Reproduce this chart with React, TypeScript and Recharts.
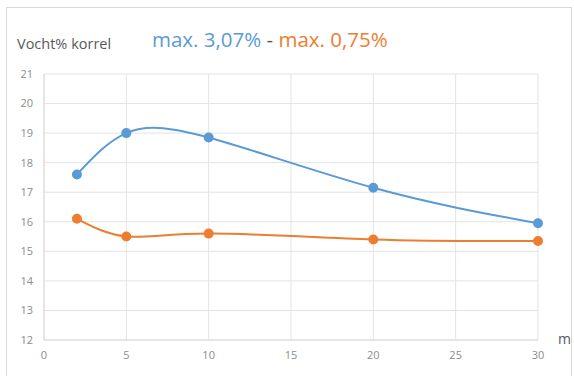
import React from "react";
import { LineChart, Line, XAxis, YAxis, CartesianGrid } from "recharts";

const distances = [2, 5, 10, 20, 30];
const moistureBlue = [17.6, 19.0, 18.85, 17.15, 15.95];
const moistureOrange = [16.1, 15.5, 15.6, 15.4, 15.35];
const xTicks = [0, 5, 10, 15, 20, 25, 30];
const yTicks = [12, 13, 14, 15, 16, 17, 18, 19, 20, 21];

const BLUE = "#5b9bd5";
const ORANGE = "#ed7d31";
const FONT = "'Open Sans', 'Liberation Sans', sans-serif";

const data = distances.map((d, i) => ({
  dist: d,
  blue: moistureBlue[i],
  orange: moistureOrange[i],
}));

export default function App() {
  return (
    <div
      style={{
        position: "absolute",
        left: 0,
        top: 0,
        width: 574,
        height: 376,
        background: "#fff",
        fontFamily: FONT,
        overflow: "hidden",
      }}
    >
      {/* chart frame */}
      <div
        style={{
          position: "absolute",
          left: 6,
          top: 7,
          width: 564,
          height: 380,
          border: "1px solid #d9d9d9",
        }}
      />
      <div style={{ position: "absolute", left: 17, top: 34, fontSize: 14.5, color: "#595959" }}>
        Vocht% korrel
      </div>
      <div style={{ position: "absolute", left: 152, top: 25, fontSize: 20.5, color: "#595959" }}>
        <span style={{ color: BLUE }}>max. 3,07%</span> -{" "}
        <span style={{ color: ORANGE }}>max. 0,75%</span>
      </div>
      <div style={{ position: "absolute", left: 558, top: 329, fontSize: 14, color: "#595959" }}>
        m
      </div>
      <LineChart
        width={574}
        height={376}
        data={data}
        margin={{ top: 74, right: 36, bottom: 8, left: 14 }}
      >
        <CartesianGrid stroke="#e3e3e3" vertical horizontal />
        <XAxis
          dataKey="dist"
          type="number"
          domain={[0, 30]}
          ticks={xTicks}
          height={28}
          tickMargin={5}
          axisLine={{ stroke: "#d9d9d9" }}
          tickLine={false}
          tick={{ fill: "#8c8c8c", fontSize: 11, fontFamily: FONT }}
        />
        <YAxis
          domain={[12, 21]}
          ticks={yTicks}
          width={30}
          tickMargin={5}
          axisLine={{ stroke: "#d9d9d9" }}
          tickLine={false}
          tick={{ fill: "#8c8c8c", fontSize: 11, fontFamily: FONT }}
        />
        <Line
          type="natural"
          dataKey="blue"
          stroke={BLUE}
          strokeWidth={2}
          dot={{ r: 4, fill: BLUE, stroke: BLUE }}
          isAnimationActive={false}
        />
        <Line
          type="natural"
          dataKey="orange"
          stroke={ORANGE}
          strokeWidth={2}
          dot={{ r: 4, fill: ORANGE, stroke: ORANGE }}
          isAnimationActive={false}
        />
      </LineChart>
    </div>
  );
}
